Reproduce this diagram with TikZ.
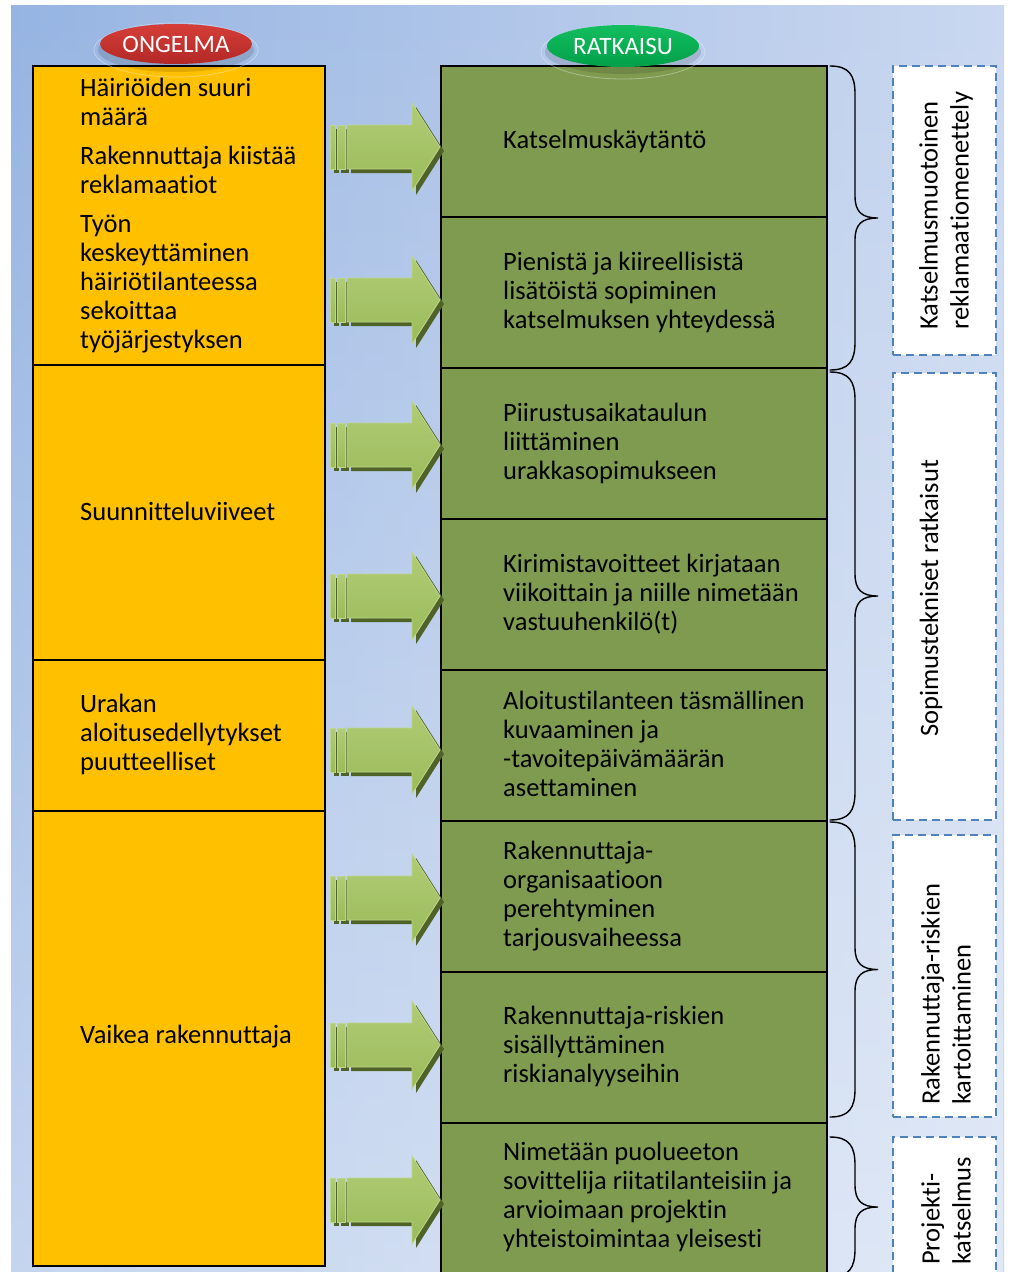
\documentclass[tikz,border=0pt]{standalone}
\usepackage{fontspec}
\setmainfont{Carlito}[Ligatures=NoCommon]
\usetikzlibrary{shapes.geometric,fadings}

\definecolor{bgleft}{RGB}{150,180,226}
\definecolor{bgright}{RGB}{202,216,240}
\definecolor{probfill}{RGB}{255,192,0}
\definecolor{solfill}{RGB}{127,155,80}
\definecolor{arrowtop}{RGB}{176,204,118}
\definecolor{arrowbot}{RGB}{155,187,89}
\definecolor{arrowedge}{RGB}{190,214,140}
\definecolor{arrowdark}{RGB}{79,98,40}
\definecolor{dashblue}{RGB}{79,129,189}
\definecolor{tagredtop}{RGB}{214,62,56}
\definecolor{tagredbot}{RGB}{178,40,38}
\definecolor{taggreentop}{RGB}{20,190,95}
\definecolor{taggreenbot}{RGB}{0,160,72}

\tikzset{
  probbox/.style={draw=black, line width=1.8pt, fill=probfill, minimum width=292pt, inner sep=0pt},
  solbox/.style={draw=black, line width=1.8pt, fill=solfill, minimum width=386pt, minimum height=151pt, inner sep=0pt},
  txt/.style={anchor=west, align=left, inner sep=0pt, font=\fontsize{26.5}{29}\selectfont},
  sidebox/.style={draw=dashblue, fill=white, line width=2.4pt, dash pattern=on 8pt off 5pt, minimum width=103pt, inner sep=0pt},
  sidetxt/.style={rotate=90, anchor=west, align=left, inner sep=0pt, font=\fontsize{26.5}{31}\selectfont},
  tag/.style={ellipse, text=white, minimum width=152pt, minimum height=40pt, inner sep=0pt, font=\fontsize{25}{25}\selectfont},
  bracepath/.style={line width=1.4pt, line cap=round},
  arrowbody/.style={top color=arrowtop, bottom color=arrowbot, draw=arrowedge, line width=0.8pt},
}

\begin{document}
\begin{tikzpicture}[x=1pt, y=-1pt]
\useasboundingbox (0,0) rectangle (1011,1272);
\begin{scope}
\clip (0,0) rectangle (1011,1272);

% background panel
\shade[left color=bgleft, right color=bgright] (11,5) rectangle (1004,1290);
\fill[white, opacity=0.45, path fading=north] (11,5) rectangle (1004,1290);

% problem column
\node[probbox, minimum height=299pt] (p1) at (179,215.5) {};
\node[probbox, minimum height=295pt] (p2) at (179,512.5) {};
\node[probbox, minimum height=151pt] (p3) at (179,735.5) {};
\node[probbox, minimum height=455pt] (p4) at (179,1038.5) {};

\node[txt] (t1a) at (80,101.5) {Häiriöiden suuri\\määrä};
\node[txt] (t1b) at (80,169.5) {Rakennuttaja kiistää\\reklamaatiot};
\node[txt] (t1c) at (80,284) {Työn\\keskeyttäminen\\häiriötilanteessa\\sekoittaa\\työjärjestyksen};
\node[txt] (t2) at (80,511) {Suunnitteluviiveet};
\node[txt] (t3) at (80,734) {Urakan\\aloitusedellytykset\\puutteelliset};
\node[txt] (t4) at (80,1037) {Vaikea rakennuttaja};

% solution column
\foreach \i in {1,...,8} {
  \node[solbox] (s\i) at (634,{66+151*(\i-1)+75.5}) {};
}
\node[txt] (u1) at (503,141) {Katselmuskäytäntö};
\node[txt] (u2) at (503,292) {Pienistä ja kiireellisistä\\lisätöistä sopiminen\\katselmuksen yhteydessä};
\node[txt] (u3) at (503,443) {Piirustusaikataulun\\liittäminen\\urakkasopimukseen};
\node[txt] (u4) at (503,594) {Kirimistavoitteet kirjataan\\viikoittain ja niille nimetään\\vastuuhenkilö(t)};
\node[txt] (u5) at (503,744) {Aloitustilanteen täsmällinen\\kuvaaminen ja\\-tavoitepäivämäärän\\asettaminen};
\node[txt] (u6) at (503,896) {Rakennuttaja-\\organisaatioon\\perehtyminen\\tarjousvaiheessa};
\node[txt] (u7) at (503,1046) {Rakennuttaja-riskien\\sisällyttäminen\\riskianalyyseihin};
\node[txt] (u8) at (503,1197) {Nimetään puolueeton\\sovittelija riitatilanteisiin ja\\arvioimaan projektin\\yhteistoimintaa yleisesti};

% block arrows pointing into the solution rows
\foreach \cy [count=\i] in {147,300,445,596,750,898,1045,1200} {
  \coordinate (a\i) at (440,\cy);
  \begin{scope}[shift={(4,4)}]
    \fill[arrowdark] (330,\cy-22) rectangle (335,\cy+22);
    \fill[arrowdark] (337,\cy-22) rectangle (345,\cy+22);
    \fill[arrowdark] (347,\cy-22) -- (412,\cy-22) -- (412,\cy-44) -- (440,\cy)
      -- (412,\cy+44) -- (412,\cy+22) -- (347,\cy+22) -- cycle;
  \end{scope}
  \shade[arrowbody] (330,\cy-22) rectangle (335,\cy+22);
  \shade[arrowbody] (337,\cy-22) rectangle (345,\cy+22);
  \shade[arrowbody]
    (347,\cy-22) -- (412,\cy-22) -- (412,\cy-44) -- (440,\cy)
    -- (412,\cy+44) -- (412,\cy+22) -- (347,\cy+22) -- cycle;
}

% braces grouping the solutions
\foreach \a/\b in {66/370, 372/820, 822/1117, 1137/1277} {
  \pgfmathsetmacro\m{(\a+\b)/2}
  \draw[bracepath] (830,\a) .. controls (849,\a) and (855,\a+9) .. (855,\a+28)
    -- (855,\m-22) .. controls (855,\m-6) and (862,\m) .. (878,\m)
    .. controls (862,\m) and (855,\m+6) .. (855,\m+22)
    -- (855,\b-28) .. controls (855,\b-9) and (849,\b) .. (830,\b);
}

% group names
\node[sidebox, minimum height=289pt] (g1) at (944.5,210.5) {};
\node[sidebox, minimum height=447pt] (g2) at (944.5,596.5) {};
\node[sidebox, minimum height=282pt] (g3) at (944.5,976) {};
\node[sidebox, minimum height=160pt] (g4) at (944.5,1217) {};

\node[sidetxt] (h1) at (946,330) {Katselmusmuotoinen\\reklamaatiomenettely};
\node[sidetxt] (h2) at (931,737) {Sopimustekniset ratkaisut};
\node[sidetxt] (h3) at (946,1105) {Rakennuttaja-riskien\\kartoittaminen};
\node[sidetxt] (h4) at (946,1265) {Projekti-\\katselmus};

% column headings
\fill[black, opacity=0.12] (176,50) ellipse (78pt and 22pt);
\draw[white, opacity=0.35, line width=0.8pt] (176,50) ellipse (82pt and 27pt);
\node[tag, top color=tagredtop, bottom color=tagredbot] (ongelma) at (176,44) {ONGELMA};
\fill[black, opacity=0.12] (623,52) ellipse (78pt and 22pt);
\draw[white, opacity=0.35, line width=0.8pt] (623,52) ellipse (82pt and 27pt);
\node[tag, top color=taggreentop, bottom color=taggreenbot, minimum height=42pt] (ratkaisu) at (623,46) {RATKAISU};
\end{scope}
\end{tikzpicture}
\end{document}
